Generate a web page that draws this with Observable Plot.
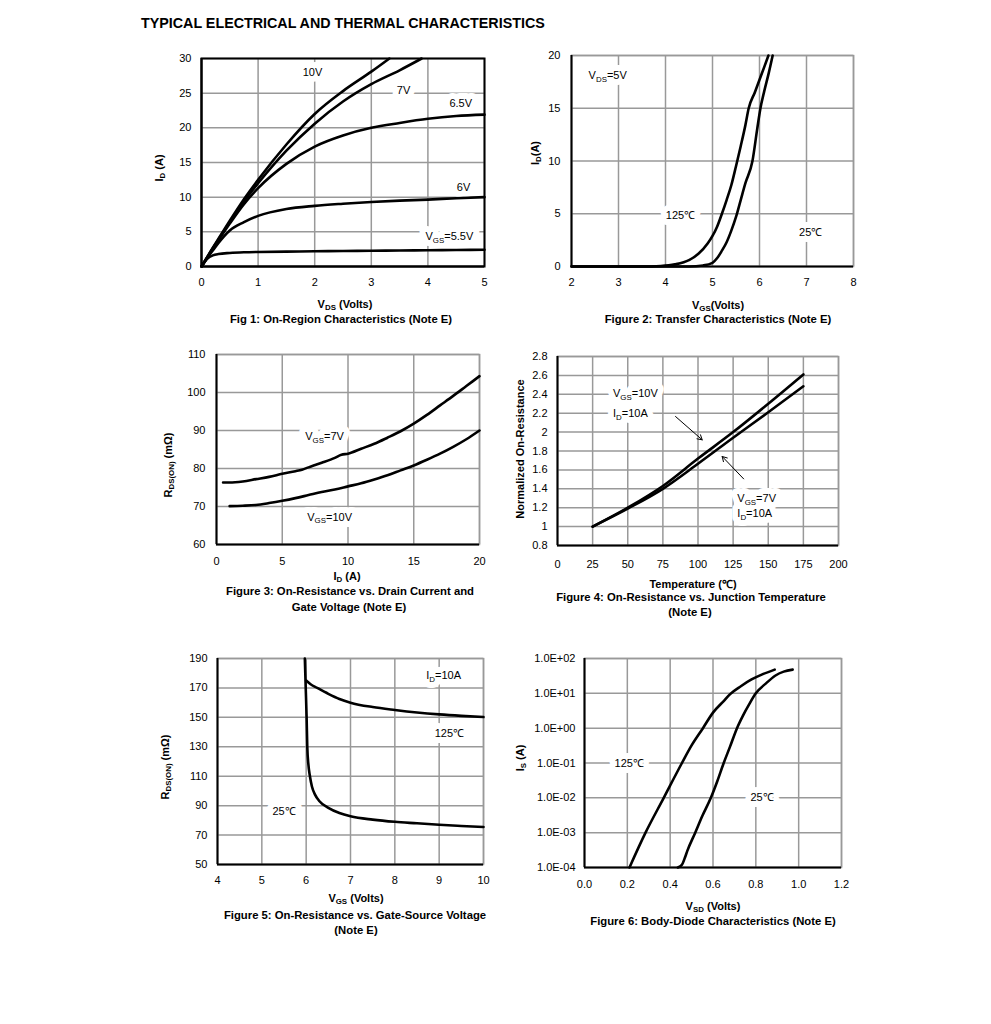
<!DOCTYPE html>
<html><head><meta charset="utf-8">
<script src="https://cdn.jsdelivr.net/npm/d3@7"></script>
<script src="https://cdn.jsdelivr.net/npm/@observablehq/plot@0.6"></script>
<style>
body{margin:0;background:#fff;font-family:"Liberation Sans",Arial,sans-serif;}
#page{position:relative;width:991px;height:1024px;overflow:hidden;background:#fff;}
.lbl{position:absolute;white-space:nowrap;font-weight:bold;font-size:11px;color:#000;transform:translate(-50%,-50%);line-height:1;}
.cap{font-size:11.3px;}
.rot{transform:translate(-50%,-50%) rotate(-90deg);}
.s{font-size:0.72em;position:relative;top:0.3em;}
.panel{position:absolute;}
#title{position:absolute;left:141px;top:23px;transform:translateY(-50%);font-weight:bold;font-size:14.3px;white-space:nowrap;}
</style></head>
<body><div id="page"><div id="title">TYPICAL ELECTRICAL AND THERMAL CHARACTERISTICS</div></div>
<script>
// ---------- Figure 1: On-Region Characteristics ----------
const f1Vds = [0,0.1,0.2,0.3,0.5,0.75,1,1.5,2,2.5,3,3.5,4,4.5,5];
const f1Id55 = [0,1.1,1.6,1.8,1.95,2.05,2.1,2.15,2.2,2.23,2.27,2.3,2.34,2.38,2.42];
const f1Id6 = [0,1.2,2.3,3.4,5.2,6.4,7.3,8.3,8.75,9.05,9.3,9.5,9.65,9.85,10.0];
const f1Id65 = [0,1.3,2.6,3.8,6.2,9.0,11.3,14.8,17.3,18.9,20.0,20.7,21.3,21.7,21.9];
const f1Vds7 = [0,0.1,0.2,0.3,0.5,0.75,1,1.5,2,2.5,3,3.5,3.89];
const f1Id7 = [0,1.3,2.6,3.9,6.4,9.4,12.0,16.7,20.6,23.8,26.3,28.3,30];
const f1Vds10 = [0,0.1,0.2,0.3,0.5,0.75,1,1.5,2,2.5,3,3.32];
const f1Id10 = [0,1.35,2.7,4.0,6.6,9.7,12.5,17.6,22.0,25.3,28.1,30];
const f1Ann = [
  {x:1.96,y:28,text:"10V"},{x:3.57,y:25.4,text:"7V"},{x:4.58,y:23.5,text:"6.5V"},
  {x:4.63,y:11.4,text:"6V"},{x:4.38,y:4.3,text:"V_{GS}=5.5V"}];
const f1XTicks = [0,1,2,3,4,5];
const f1YTicks = [0,5,10,15,20,25,30];

// ---------- Figure 2: Transfer Characteristics ----------
const f2Vgs125 = [2,3.5,3.9,4.2,4.5,4.7,4.9,5.0,5.1,5.2,5.3,5.4,5.5,5.6,5.7,5.77,5.9,6.0,6.1,6.19];
const f2Id125 = [0,0,0.05,0.2,0.6,1.2,2.2,2.9,3.8,5.0,6.3,7.7,9.5,11.4,13.4,15,16.5,17.7,18.9,20];
const f2Vgs25 = [2,4.5,4.8,5.0,5.1,5.2,5.3,5.4,5.5,5.6,5.7,5.85,5.95,6.02,6.1,6.2,6.28];
const f2Id25 = [0,0,0.1,0.35,0.8,1.5,2.3,3.4,4.7,6.3,7.9,10,13.0,15,16.6,18.4,20];
const f2Ann = [{x:2.77,y:18.1,text:"V_{DS}=5V"},{x:4.32,y:4.83,text:"125℃"},{x:7.09,y:3.25,text:"25℃"}];
const f2XTicks = [2,3,4,5,6,7,8];
const f2YTicks = [0,5,10,15,20];

// ---------- Figure 3: On-Resistance vs. Drain Current ----------
const f3Id7 = [0.5,1,2,3,4,5,6,6.5,7,8,9,9.5,10,11,12,13,14,15,16,17,18,19,20];
const f3R7 = [76.3,76.3,76.6,77.2,77.8,78.6,79.3,79.7,80.3,81.5,82.8,83.6,83.9,85.2,86.5,88.1,89.8,91.8,94.1,96.6,99.1,101.7,104.3];
const f3Id10 = [1,2,3,4,5,6,7,8,9,10,11,12,13,14,15,16,17,18,19,20];
const f3R10 = [70.1,70.2,70.4,70.9,71.5,72.2,73.0,73.8,74.5,75.3,76.1,77.1,78.2,79.5,80.8,82.3,83.9,85.7,87.7,90.0];
const f3Ann = [{x:8.22,y:88.5,text:"V_{GS}=7V"},{x:8.6,y:67.2,text:"V_{GS}=10V"}];
const f3XTicks = [0,5,10,15,20];
const f3YTicks = [60,70,80,90,100,110];

// ---------- Figure 4: On-Resistance vs. Junction Temperature ----------
const f4Temp = [25,50,75,100,125,150,175];
const f4N10 = [1.0,1.2,1.43,1.72,2.0,2.3,2.61];
const f4N7 = [1.0,1.19,1.40,1.665,1.94,2.21,2.485];
const f4Ann = [
  {x:39.5,y:2.405,text:"V_{GS}=10V"},{x:39.5,y:2.193,text:"I_{D}=10A"},
  {x:128,y:1.294,text:"V_{GS}=7V"},{x:128,y:1.135,text:"I_{D}=10A"}];
const f4Arrows = [{x1:84,y1:2.165,x2:103,y2:1.918},{x1:132.5,y1:1.505,x2:117.2,y2:1.742}];
const f4XTicks = [0,25,50,75,100,125,150,175,200];
const f4YTicks = [0.8,1,1.2,1.4,1.6,1.8,2,2.2,2.4,2.6,2.8];

// ---------- Figure 5: On-Resistance vs. Gate-Source Voltage ----------
const f5Vgs25 = [5.97,5.99,6.01,6.025,6.05,6.085,6.13,6.2,6.3,6.5,6.75,7,7.5,8,8.5,9,9.5,10];
const f5R25 = [190,170,150,130,118,110,103,97.5,93,88.5,85,82.8,80.5,79,78,77,76.2,75.5];
const f5Vgs125 = [6.0,6.1,6.25,6.5,6.75,7,7.5,8,8.5,9,9.5,10];
const f5R125 = [175,172.5,170,166,162.5,160,157,155,153.3,152,151,150.2];
const f5Ann = [{x:9.1,y:178.5,text:"I_{D}=10A"},{x:9.23,y:138.9,text:"125℃"},{x:5.5,y:86,text:"25℃"}];
const f5XTicks = [4,5,6,7,8,9,10];
const f5YTicks = [50,70,90,110,130,150,170,190];

// ---------- Figure 6: Body-Diode Characteristics ----------
const f6Vsd125 = [0.21,0.285,0.37,0.455,0.5,0.553,0.6,0.65,0.68,0.73,0.78,0.83,0.888];
const f6Is125 = [1e-4,1e-3,1e-2,0.1,0.32,1,2.8,6,9.5,16,25,35,48];
const f6Vsd25 = [0.436,0.455,0.47,0.48,0.517,0.55,0.59,0.62,0.65,0.68,0.712,0.74,0.77,0.8,0.85,0.89,0.93,0.972];
const f6Is25 = [1e-4,1.2e-4,2e-4,3e-4,1e-3,3e-3,1e-2,3e-2,0.1,0.3,1,2.3,5,10,20,32,42,48];
const f6Ann = [{x:0.209,y:0.1,text:"125℃"},{x:0.829,y:0.01,text:"25℃"}];
const f6XTicks = [0,0.2,0.4,0.6,0.8,1.0,1.2];
const f6YTicks = [1e-4,1e-3,1e-2,1e-1,1e0,1e1,1e2];

const zip = (xs, ys) => xs.map((x, i) => ({x, y: ys[i]}));
const page = document.getElementById("page");
const FS = 11;

function subscripts(svg) {
  svg.querySelectorAll("text").forEach(t => {
    const s = t.textContent;
    if (!s.includes("_{")) return;
    t.textContent = "";
    let shifted = false;
    s.split(/(_\{[^}]*\})/).forEach(p => {
      if (!p) return;
      const ts = document.createElementNS("http://www.w3.org/2000/svg", "tspan");
      if (p.startsWith("_{")) {
        ts.textContent = p.slice(2, -1);
        ts.setAttribute("font-size", String(FS * 0.72));
        ts.setAttribute("dy", "2.8");
        shifted = true;
      } else {
        ts.textContent = p;
        if (shifted) { ts.setAttribute("dy", "-2.8"); shifted = false; }
      }
      t.appendChild(ts);
    });
  });
}

function makePanel(cfg) {
  const ML = 56, MT = 8, MR = 16, MB = 32;
  const [fx, fy, fw, fh] = cfg.frame;
  const gridStyle = {stroke: "#999", strokeOpacity: 1, strokeWidth: 1.5};
  const textOpts = {x: "x", y: "y", text: "text", textAnchor: cfg.anchor || "middle", fontSize: FS};
  const marks = [
    Plot.gridX({ticks: cfg.xTicks, ...gridStyle}),
    Plot.gridY({ticks: cfg.yTicks, ...gridStyle}),
    Plot.frame({stroke: cfg.frameColor || "#999", strokeWidth: cfg.frameColor ? 2 : 1.5}),
    Plot.text(cfg.ann, {...textOpts, fill: "white", stroke: "white", strokeWidth: 12, strokeLinejoin: "round"}),
    Plot.text(cfg.ann, {...textOpts, fill: "black"}),
  ];
  if (cfg.arrows) marks.push(Plot.arrow(cfg.arrows, {x1: "x1", y1: "y1", x2: "x2", y2: "y2",
    stroke: "black", strokeWidth: 1, headLength: 8}));
  cfg.series.forEach(s => marks.push(Plot.line(s, {x: "x", y: "y", stroke: "black",
    strokeWidth: 2.6, curve: "monotone-x"})));
  marks.push(
    Plot.ruleX([cfg.xDomain[0]], {stroke: "black", strokeWidth: 2}),
    Plot.ruleY([cfg.yDomain[0]], {stroke: "black", strokeWidth: 2}),
    Plot.axisX({ticks: cfg.xTicks, tickSize: 0, tickPadding: cfg.xPad, tickFormat: cfg.xFormat || (d => String(d)), label: null, fontSize: FS}),
    Plot.axisY({ticks: cfg.yTicks, tickSize: 0, tickPadding: cfg.yPad, tickFormat: cfg.yFormat || (d => String(d)), label: null, fontSize: FS})
  );
  const svg = Plot.plot({
    width: fw + ML + MR, height: fh + MT + MB,
    marginLeft: ML, marginTop: MT, marginRight: MR, marginBottom: MB,
    x: {domain: cfg.xDomain},
    y: {domain: cfg.yDomain, type: cfg.yType || "linear"},
    style: {fontFamily: "'Liberation Sans', Arial, sans-serif", fontSize: FS + "px", overflow: "visible", background: "transparent"},
    marks
  });
  subscripts(svg);
  const wrap = document.createElement("div");
  wrap.className = "panel";
  wrap.style.left = (fx - ML) + "px";
  wrap.style.top = (fy - MT) + "px";
  wrap.appendChild(svg);
  page.appendChild(wrap);
  cfg.labels.forEach(([html, cx, cy, kind]) => {
    const d = document.createElement("div");
    d.className = "lbl" + (kind === "r" ? " rot" : kind === "c" ? " cap" : "");
    d.innerHTML = html.replace(/_\{([^}]*)\}/g, '<span class="s">$1</span>');
    d.style.left = cx + "px";
    d.style.top = cy + "px";
    page.appendChild(d);
  });
}

const num1 = d => String(+d.toFixed(1));
const sci = d => {
  const e = Math.round(Math.log10(d));
  return "1.0E" + (e >= 0 ? "+" : "-") + String(Math.abs(e)).padStart(2, "0");
};

makePanel({
  frame: [201, 58, 283, 208], xDomain: [0, 5], yDomain: [0, 30],
  xTicks: f1XTicks, yTicks: f1YTicks, xPad: 12, yPad: 10, frameColor: "black",
  series: [zip(f1Vds, f1Id55), zip(f1Vds, f1Id6), zip(f1Vds, f1Id65), zip(f1Vds7, f1Id7), zip(f1Vds10, f1Id10)],
  ann: f1Ann,
  labels: [["I_{D} (A)", 159, 168, "r"], ["V_{DS} (Volts)", 345, 304], ["Fig 1: On-Region Characteristics (Note E)", 341, 319.5, "c"]]
});
makePanel({
  frame: [571, 55, 282, 211], xDomain: [2, 8], yDomain: [0, 20],
  xTicks: f2XTicks, yTicks: f2YTicks, xPad: 12, yPad: 11,
  series: [zip(f2Vgs125, f2Id125), zip(f2Vgs25, f2Id25)],
  ann: f2Ann,
  labels: [["I_{D}(A)", 535, 153, "r"], ["V_{GS}(Volts)", 718, 305], ["Figure 2: Transfer Characteristics (Note E)", 718, 320, "c"]]
});
makePanel({
  frame: [216, 354, 263, 190], xDomain: [0, 20], yDomain: [60, 110],
  xTicks: f3XTicks, yTicks: f3YTicks, xPad: 13, yPad: 11,
  series: [zip(f3Id7, f3R7), zip(f3Id10, f3R10)],
  ann: f3Ann,
  labels: [["R_{DS(ON)} (mΩ)", 168, 465, "r"], ["I_{D} (A)", 347, 576],
    ["Figure 3: On-Resistance vs. Drain Current and", 350, 592, "c"], ["Gate Voltage (Note E)", 349, 608, "c"]]
});
makePanel({
  frame: [557, 356, 281, 189], xDomain: [0, 200], yDomain: [0.8, 2.8],
  xTicks: f4XTicks, yTicks: f4YTicks, xPad: 15, yPad: 10, yFormat: num1,
  series: [zip(f4Temp, f4N10), zip(f4Temp, f4N7)],
  ann: f4Ann, anchor: "start", arrows: f4Arrows,
  labels: [["Normalized On-Resistance", 520, 449, "r"], ["Temperature (℃)", 693, 584],
    ["Figure 4: On-Resistance vs. Junction Temperature", 691, 598, "c"], ["(Note E)", 690, 613, "c"]]
});
makePanel({
  frame: [217, 658, 266, 206], xDomain: [4, 10], yDomain: [50, 190],
  xTicks: f5XTicks, yTicks: f5YTicks, xPad: 12, yPad: 10,
  series: [zip(f5Vgs25, f5R25), zip(f5Vgs125, f5R125)],
  ann: f5Ann,
  labels: [["R_{DS(ON)} (mΩ)", 165, 767, "r"], ["V_{GS} (Volts)", 356, 898],
    ["Figure 5: On-Resistance vs. Gate-Source Voltage", 355, 915.5, "c"], ["(Note E)", 356, 931, "c"]]
});
makePanel({
  frame: [584, 658, 257, 209], xDomain: [0, 1.2], yDomain: [1e-4, 1e2], yType: "log",
  xTicks: f6XTicks, yTicks: f6YTicks, xPad: 13, yPad: 9, xFormat: d3.format(".1f"), yFormat: sci,
  series: [zip(f6Vsd125, f6Is125), zip(f6Vsd25, f6Is25)],
  ann: f6Ann,
  labels: [["I_{S} (A)", 520, 758, "r"], ["V_{SD} (Volts)", 713, 906], ["Figure 6: Body-Diode Characteristics (Note E)", 713, 921.5, "c"]]
});
</script>
</body></html>
